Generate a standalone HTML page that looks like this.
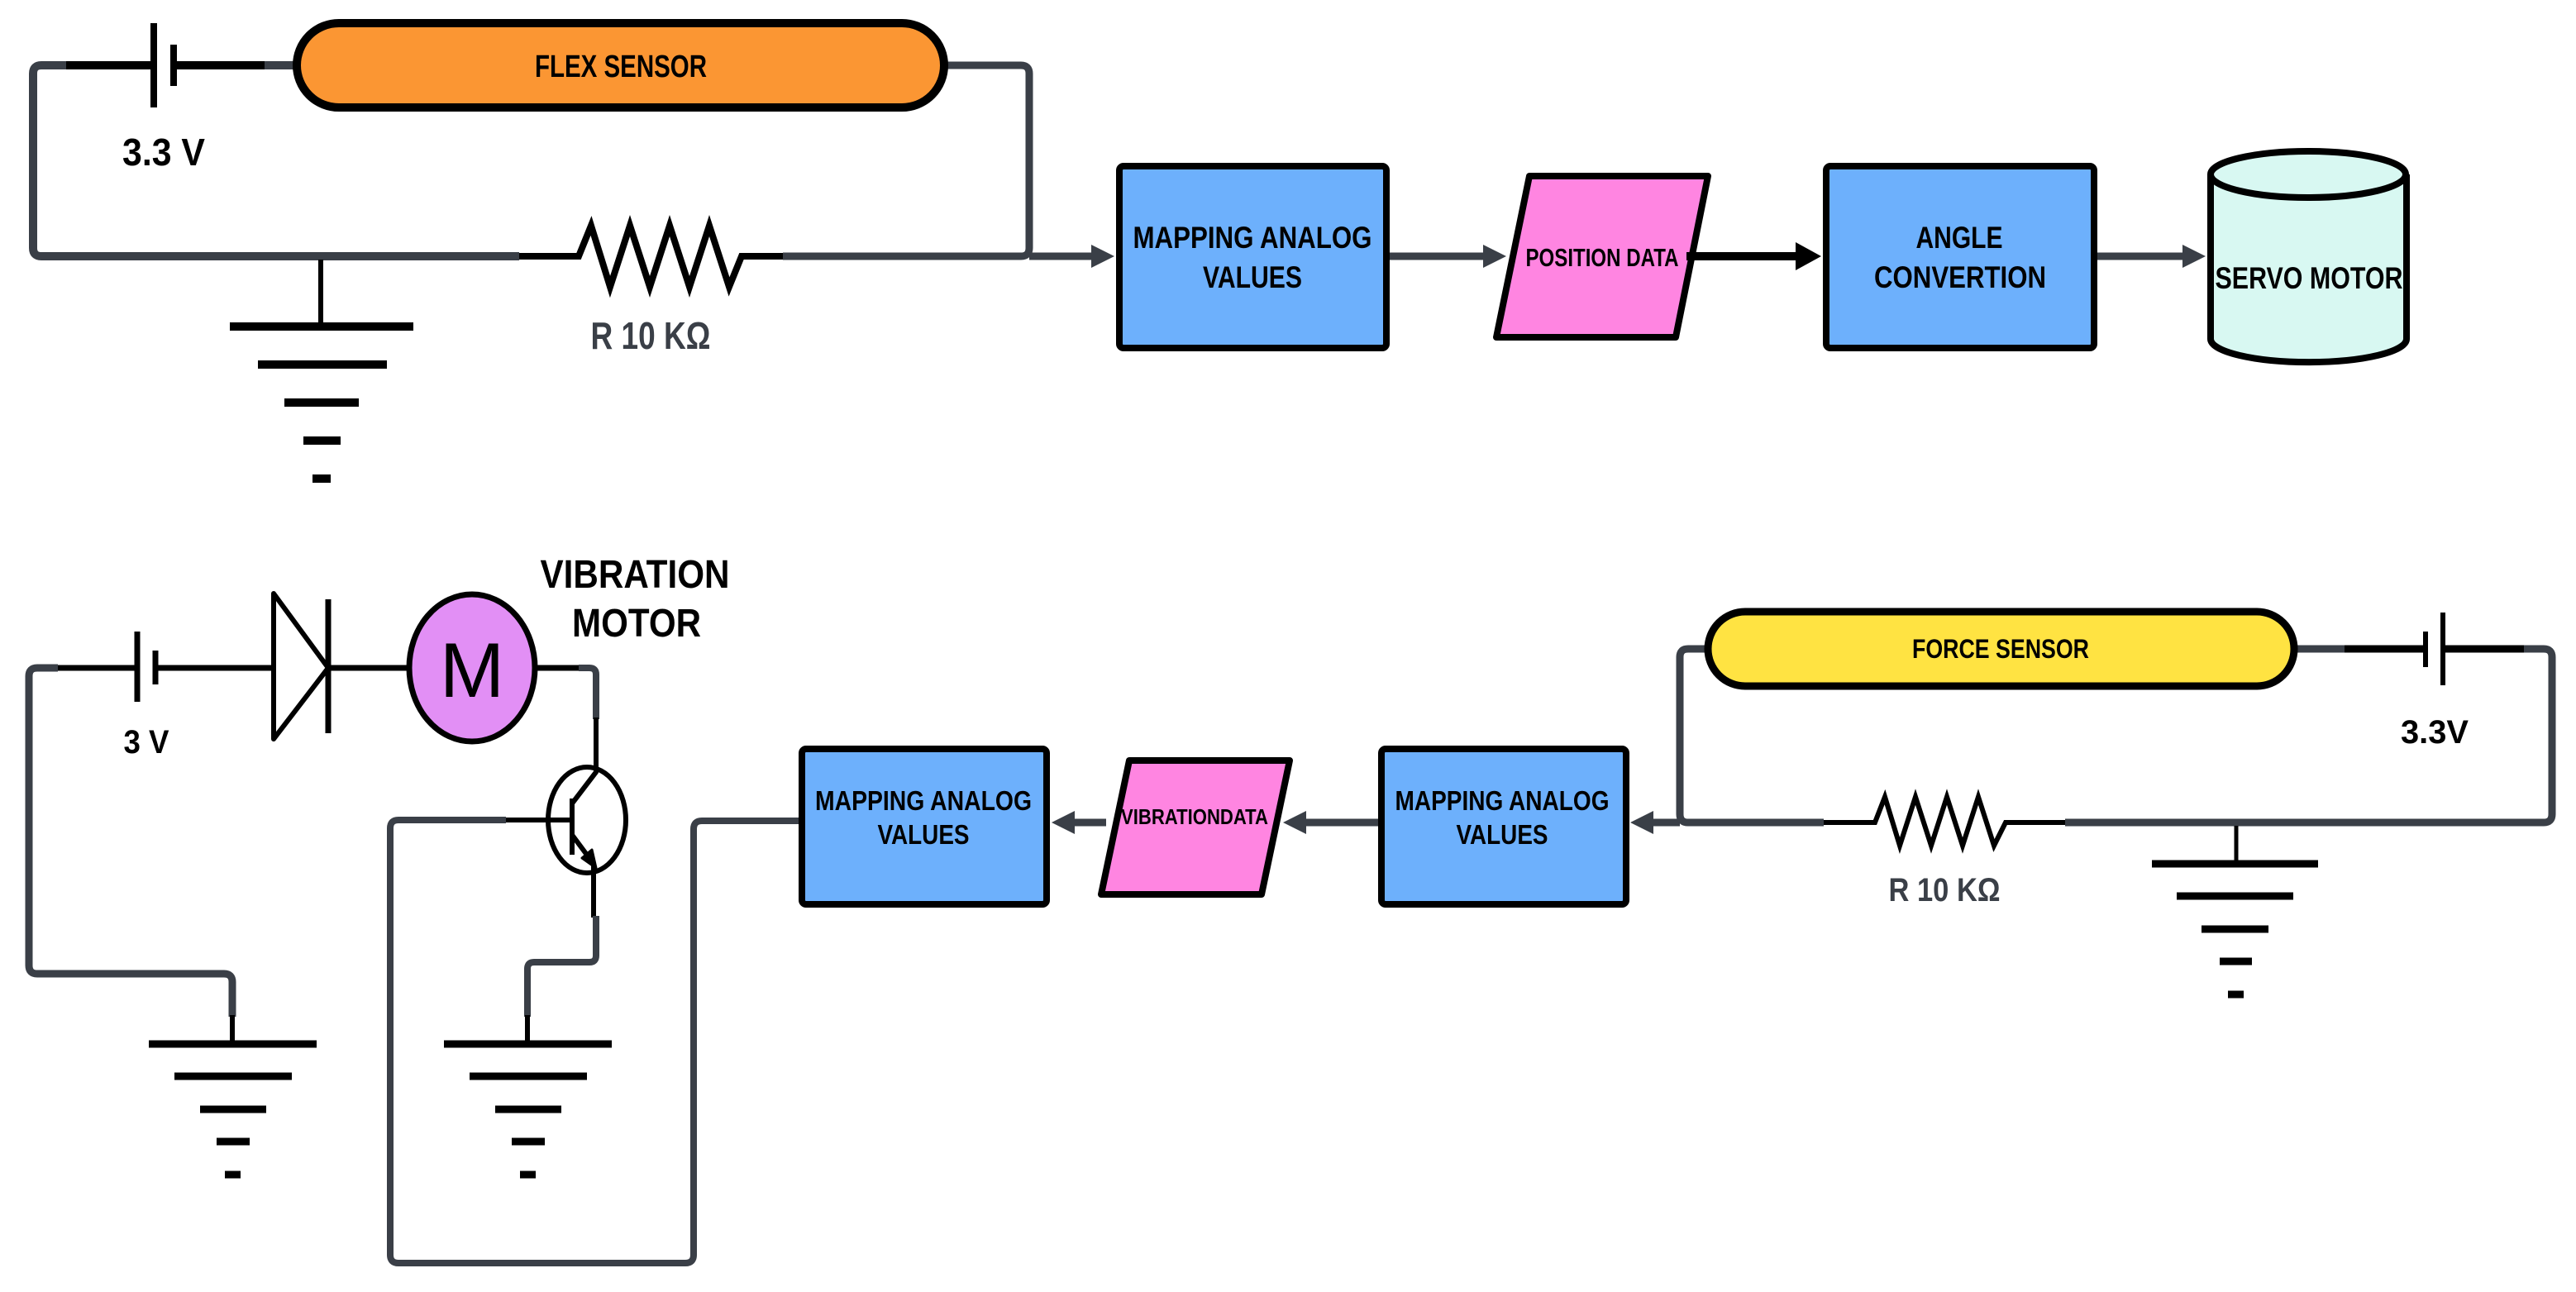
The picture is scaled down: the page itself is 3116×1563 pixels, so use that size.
<!DOCTYPE html>
<html><head><meta charset="utf-8"><style>
html,body{margin:0;padding:0;background:#fff;width:3116px;height:1563px;overflow:hidden}
svg{display:block}
text{font-family:"Liberation Sans",sans-serif;font-weight:bold}
</style></head><body>
<svg width="3116" height="1563" viewBox="0 0 3116 1563" xmlns="http://www.w3.org/2000/svg">
<g fill="none" stroke-linecap="butt" stroke-linejoin="round">
<!-- TOP CIRCUIT -->
<path d="M80,79 H50 Q40,79 40,89 V300 Q40,310 50,310 H628" stroke="#3a3f47" stroke-width="10"/>
<path d="M947,310 H1235 Q1245,310 1245,300 V89 Q1245,79 1235,79 H1146" stroke="#3a3f47" stroke-width="9"/>
<path d="M1245,310 H1320" stroke="#3a3f47" stroke-width="9"/>
<path d="M1320,296 L1348,310 L1320,324 Z" fill="#3a3f47"/>
<path d="M320,79 H355" stroke="#3a3f47" stroke-width="10"/>
<path d="M80,79 H186 M210,79 H320" stroke="#000" stroke-width="10"/>
<path d="M186,28 V130" stroke="#000" stroke-width="8"/>
<path d="M210,54 V104" stroke="#000" stroke-width="8"/>
<path d="M628,310 H700 L715,273 L738,347 L762,273 L786,347 L810,273 L834,347 L858,273 L882,347 L897,310 H947" stroke="#000" stroke-width="8" stroke-linejoin="miter"/>
<path d="M388,314 V395" stroke="#000" stroke-width="6"/>
<g stroke="#000" stroke-width="10">
<path d="M278,395 H500 M312,441 H468 M344,487 H434 M367,533 H412 M378,579 H400"/>
</g>
<rect x="359" y="28" width="783" height="102" rx="51" fill="#fb9633" stroke="#000" stroke-width="10"/>
<!-- top flow -->
<rect x="1354" y="201" width="323" height="220" rx="5" fill="#6db0fc" stroke="#000" stroke-width="8"/>
<path d="M1850,213 H2066 L2027,408 H1810 Z" fill="#ff85e1" stroke="#000" stroke-width="8"/>
<rect x="2209" y="201" width="324" height="220" rx="5" fill="#6db0fc" stroke="#000" stroke-width="8"/>
<path d="M2674,211 V410 A118,28 0 0 0 2911,410 V211" fill="#d8f8f2" stroke="#000" stroke-width="8"/>
<ellipse cx="2792" cy="211" rx="118" ry="28" fill="#d8f8f2" stroke="#000" stroke-width="8"/>
<path d="M1681,310 H1794" stroke="#3a3f47" stroke-width="9"/>
<path d="M1794,296 L1822,310 L1794,324 Z" fill="#3a3f47"/>
<path d="M2040,310 H2173" stroke="#000" stroke-width="10"/>
<path d="M2172,293 L2203,310 L2172,327 Z" fill="#000"/>
<path d="M2537,310 H2640" stroke="#3a3f47" stroke-width="9"/>
<path d="M2640,296 L2668,310 L2640,324 Z" fill="#3a3f47"/>

<!-- BOTTOM LEFT CIRCUIT -->
<path d="M70,808 H45 Q35,808 35,818 V1168 Q35,1178 45,1178 H271 Q281,1178 281,1188 V1230" stroke="#3a3f47" stroke-width="9"/>
<path d="M281,1228 V1263" stroke="#000" stroke-width="6"/>
<path d="M70,808 H166 M188,808 H330 M397,808 H495 M647,808 H700" stroke="#000" stroke-width="7"/>
<path d="M166,764 V849" stroke="#000" stroke-width="7"/>
<path d="M188,787 V828" stroke="#000" stroke-width="7"/>
<path d="M331,718 L397,808 L331,894 Z" stroke="#000" stroke-width="6" fill="#fff"/>
<path d="M397,725 V887" stroke="#000" stroke-width="7"/>
<ellipse cx="571" cy="808" rx="76" ry="89" fill="#e28ff5" stroke="#000" stroke-width="7"/>
<path d="M700,808 H713 Q721,808 721,816 V870" stroke="#3a3f47" stroke-width="8"/>
<ellipse cx="710" cy="992" rx="47" ry="64" stroke="#000" stroke-width="6" fill="#fff"/>
<path d="M721,868 V934 L692,972" stroke="#000" stroke-width="6"/>
<path d="M692,966 V1034" stroke="#000" stroke-width="6"/>
<path d="M612,992 H692" stroke="#000" stroke-width="6"/>
<path d="M692,1010 L718,1045 V1110" stroke="#000" stroke-width="6"/>
<path d="M704,1038 L721,1050 L716,1028 Z" fill="#000" stroke="#000" stroke-width="3"/>
<path d="M721,1108 V1156 Q721,1164 713,1164 H646 Q638,1164 638,1172 V1230" stroke="#3a3f47" stroke-width="8"/>
<path d="M638,1228 V1263" stroke="#000" stroke-width="6"/>
<g stroke="#000" stroke-width="9">
<path d="M180,1263 H383 M211,1302 H353 M242,1342 H322 M262,1381 H302 M272,1421 H291"/>
<path d="M537,1263 H740 M568,1302 H710 M599,1342 H679 M619,1381 H659 M629,1421 H648"/>
</g>
<path d="M612,992 H482 Q472,992 472,1002 V1518 Q472,1528 482,1528 H829 Q839,1528 839,1518 V1003 Q839,993 849,993 H968" stroke="#3a3f47" stroke-width="8"/>

<!-- bottom flow -->
<rect x="970" y="906" width="296" height="188" rx="5" fill="#6db0fc" stroke="#000" stroke-width="8"/>
<path d="M1366,920 H1560 L1526,1082 H1332 Z" fill="#ff85e1" stroke="#000" stroke-width="8"/>
<rect x="1671" y="906" width="296" height="188" rx="5" fill="#6db0fc" stroke="#000" stroke-width="8"/>
<path d="M1667,995 H1578" stroke="#3a3f47" stroke-width="9"/>
<path d="M1580,981 L1552,995 L1580,1009 Z" fill="#3a3f47"/>
<path d="M1338,995 H1298" stroke="#3a3f47" stroke-width="9"/>
<path d="M1300,981 L1272,995 L1300,1009 Z" fill="#3a3f47"/>
<path d="M2032,995 H1998" stroke="#3a3f47" stroke-width="9"/>
<path d="M2000,981 L1972,995 L2000,1009 Z" fill="#3a3f47"/>

<!-- BOTTOM RIGHT CIRCUIT -->
<path d="M2063,785 H2042 Q2032,785 2032,795 V985 Q2032,995 2042,995 H2206" stroke="#3a3f47" stroke-width="9"/>
<path d="M2498,995 H3077 Q3087,995 3087,985 V795 Q3087,785 3077,785 H3053" stroke="#3a3f47" stroke-width="9"/>
<path d="M2778,785 H2836" stroke="#3a3f47" stroke-width="9"/>
<path d="M2836,785 H2934 M2955,785 H3053" stroke="#000" stroke-width="9"/>
<path d="M2955,741 V829" stroke="#000" stroke-width="6"/>
<path d="M2934,764 V807" stroke="#000" stroke-width="6"/>
<path d="M2206,995 H2268 L2280,964 L2298,1023 L2317,964 L2336,1023 L2355,964 L2374,1023 L2393,964 L2412,1023 L2426,995 H2498" stroke="#000" stroke-width="6" stroke-linejoin="miter"/>
<path d="M2705,999 V1045" stroke="#000" stroke-width="5"/>
<g stroke="#000" stroke-width="9">
<path d="M2603,1045 H2804 M2633,1084 H2774 M2663,1124 H2744 M2685,1163 H2724 M2695,1203 H2714"/>
</g>
<rect x="2066" y="740" width="709" height="90" rx="45" fill="#ffe342" stroke="#000" stroke-width="9"/>
</g>

<!-- TEXT -->
<g fill="#000">
<text x="751" y="93" font-size="38" text-anchor="middle" textLength="208" lengthAdjust="spacingAndGlyphs">FLEX SENSOR</text>
<text x="198" y="200" font-size="46" text-anchor="middle" textLength="100" lengthAdjust="spacingAndGlyphs">3.3 V</text>
<text x="787" y="422" font-size="46" fill="#3a3f47" text-anchor="middle" textLength="145" lengthAdjust="spacingAndGlyphs">R 10 KΩ</text>
<text x="1515" y="300" font-size="37" text-anchor="middle" textLength="289" lengthAdjust="spacingAndGlyphs">MAPPING ANALOG</text>
<text x="1515" y="348" font-size="37" text-anchor="middle" textLength="120" lengthAdjust="spacingAndGlyphs">VALUES</text>
<text x="1938" y="322" font-size="31" text-anchor="middle" textLength="185" lengthAdjust="spacingAndGlyphs">POSITION DATA</text>
<text x="2370" y="300" font-size="37" text-anchor="middle" textLength="105" lengthAdjust="spacingAndGlyphs">ANGLE</text>
<text x="2371" y="348" font-size="37" text-anchor="middle" textLength="208" lengthAdjust="spacingAndGlyphs">CONVERTION</text>
<text x="2793" y="349" font-size="37" text-anchor="middle" textLength="227" lengthAdjust="spacingAndGlyphs">SERVO MOTOR</text>
<text x="768" y="711" font-size="48" text-anchor="middle" textLength="229" lengthAdjust="spacingAndGlyphs">VIBRATION</text>
<text x="770" y="770" font-size="48" text-anchor="middle" textLength="156" lengthAdjust="spacingAndGlyphs">MOTOR</text>
<text x="177" y="911" font-size="40" text-anchor="middle" textLength="55" lengthAdjust="spacingAndGlyphs">3 V</text>
<text x="571" y="843" font-size="94" style="font-weight:normal" text-anchor="middle">M</text>
<text x="1117" y="980" font-size="33" text-anchor="middle" textLength="262" lengthAdjust="spacingAndGlyphs">MAPPING ANALOG</text>
<text x="1117" y="1021" font-size="33" text-anchor="middle" textLength="111" lengthAdjust="spacingAndGlyphs">VALUES</text>
<text x="1445" y="997" font-size="26" text-anchor="middle" textLength="178" lengthAdjust="spacingAndGlyphs">VIBRATIONDATA</text>
<text x="1817" y="980" font-size="33" text-anchor="middle" textLength="259" lengthAdjust="spacingAndGlyphs">MAPPING ANALOG</text>
<text x="1817" y="1021" font-size="33" text-anchor="middle" textLength="111" lengthAdjust="spacingAndGlyphs">VALUES</text>
<text x="2420" y="796" font-size="32" text-anchor="middle" textLength="214" lengthAdjust="spacingAndGlyphs">FORCE SENSOR</text>
<text x="2945" y="899" font-size="40" text-anchor="middle" textLength="82" lengthAdjust="spacingAndGlyphs">3.3V</text>
<text x="2352" y="1090" font-size="40" fill="#3a3f47" text-anchor="middle" textLength="135" lengthAdjust="spacingAndGlyphs">R 10 KΩ</text>
</g>
</svg>
</body></html>
